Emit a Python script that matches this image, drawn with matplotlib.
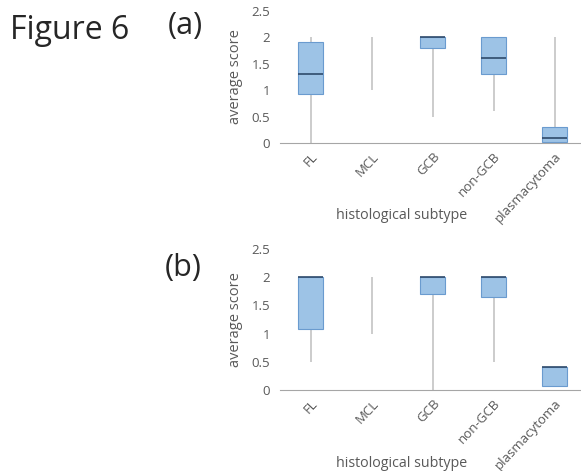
import numpy as np
import matplotlib
matplotlib.use('Agg')
import matplotlib.pyplot as plt

plt.rcParams['font.family'] = ['Open Sans', 'DejaVu Sans']

subtypes = ['FL', 'MCL', 'GCB', 'non-GCB', 'plasmacytoma']

# panel (a): whisker low, Q1, median, Q3, whisker high
a_low = [0.0, 1.0, 0.5, 0.6, 0.0]
a_q1 = [0.93, np.nan, 1.8, 1.3, 0.02]
a_med = [1.3, np.nan, 2.0, 1.6, 0.1]
a_q3 = [1.92, np.nan, 2.0, 2.0, 0.3]
a_high = [2.0, 2.0, 2.0, 2.0, 2.0]

# panel (b)
b_low = [0.5, 1.0, 0.0, 0.5, 0.07]
b_q1 = [1.08, np.nan, 1.7, 1.65, 0.07]
b_med = [2.0, np.nan, 2.0, 2.0, 0.4]
b_q3 = [2.0, np.nan, 2.0, 2.0, 0.4]
b_high = [2.0, 2.0, 2.0, 2.0, 0.4]

box_fill = '#9DC3E6'
box_edge = '#6A9BCF'
whisk_col = '#C4C4C4'
med_col = '#2E4A6B'
txt_col = '#595959'


def draw_panel(ax, low, q1, med, q3, high, label_y):
    x = np.arange(len(subtypes))
    ax.vlines(x, low, high, color=whisk_col, lw=1.2, zorder=1)
    for i in x:
        if np.isnan(q1[i]):
            continue
        ax.bar(i, q3[i] - q1[i], bottom=q1[i], width=0.42,
               color=box_fill, edgecolor=box_edge, lw=0.8, zorder=2)
        ax.hlines(med[i], i - 0.21, i + 0.21, color=med_col, lw=1.2, zorder=3)
    ax.set_xlim(-0.5, len(subtypes) - 0.5)
    ax.set_ylim(0, 2.5)
    ax.set_yticks([0, 0.5, 1, 1.5, 2, 2.5])
    ax.set_yticklabels(['0', '0.5', '1', '1.5', '2', '2.5'])
    ax.set_xticks(x)
    ax.set_xticklabels(subtypes, rotation=47, ha='right', rotation_mode='anchor')
    for s in ['top', 'right', 'left']:
        ax.spines[s].set_visible(False)
    ax.spines['bottom'].set_color('#A6A6A6')
    ax.tick_params(axis='both', length=0, labelsize=9.5, colors=txt_col, pad=7)
    ax.tick_params(axis='x', pad=5)
    ax.set_ylabel('average score', fontsize=10.5, color=txt_col, labelpad=6)
    ax.set_xlabel('histological subtype', fontsize=10.3, color=txt_col)
    ax.xaxis.set_label_coords(0.40, label_y)


fig = plt.figure(figsize=(5.81, 4.71), dpi=100)
ax1 = fig.add_axes([0.482, 0.696, 0.525, 0.281])
ax2 = fig.add_axes([0.482, 0.172, 0.525, 0.299])
draw_panel(ax1, a_low, a_q1, a_med, a_q3, a_high, -0.49)
draw_panel(ax2, b_low, b_q1, b_med, b_q3, b_high, -0.47)

fig.text(0.017, 0.935, 'Figure 6', fontsize=23, color='#262626', va='center')
fig.text(0.288, 0.945, '(a)', fontsize=22, color='#262626', va='center')
fig.text(0.283, 0.43, '(b)', fontsize=22, color='#262626', va='center')

fig.savefig('out.png', dpi=100)
